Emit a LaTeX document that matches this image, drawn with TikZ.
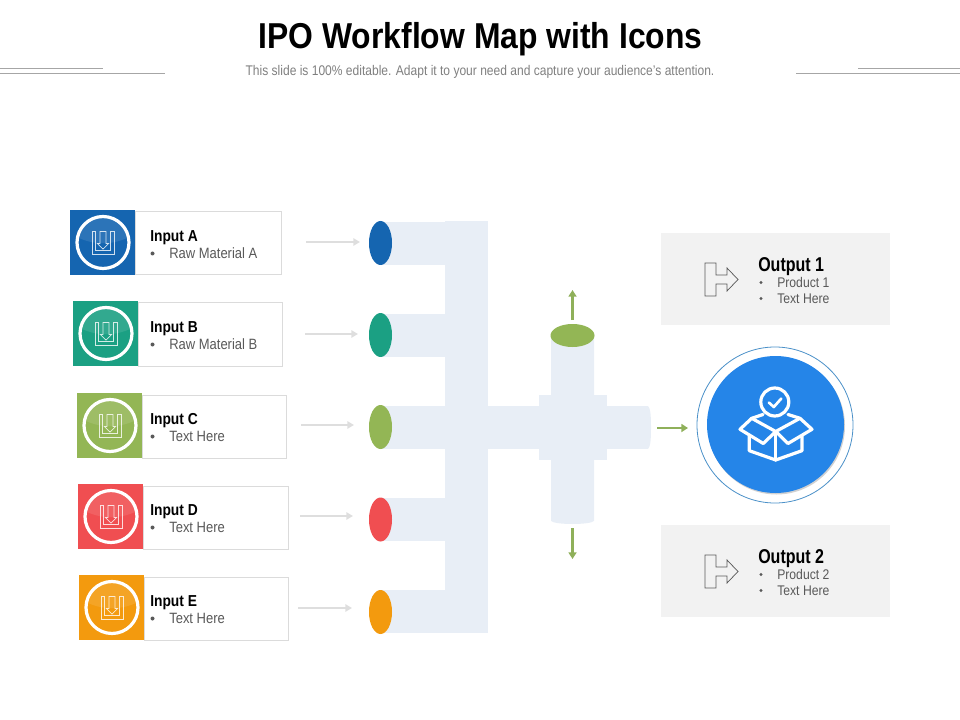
\documentclass[tikz,border=0pt]{standalone}
\usepackage{fontspec}
\setmainfont{Liberation Sans}
\newfontfamily\narrowf[FakeStretch=0.80]{Liberation Sans}
\newfontfamily\narrowg[FakeStretch=0.87]{Liberation Sans}
\newfontfamily\titlef[FakeStretch=0.885]{Liberation Sans}
\newfontfamily\subf[FakeStretch=0.86]{Liberation Sans}
\usetikzlibrary{arrows.meta}
\definecolor{barblue}{HTML}{E8EEF6}
\definecolor{cA}{HTML}{1565B0}
\definecolor{cB}{HTML}{1BA083}
\definecolor{cC}{HTML}{93B655}
\definecolor{cD}{HTML}{F04E51}
\definecolor{cE}{HTML}{F39A0E}
\definecolor{arrgreen}{HTML}{8FB05A}
\definecolor{bigblue}{HTML}{2585E8}
\definecolor{ringblue}{HTML}{4A90C8}
\definecolor{subgray}{HTML}{7F7F7F}
\definecolor{bodygray}{HTML}{595959}
\definecolor{ruleg}{HTML}{A6A6A6}
\tikzset{
  x=0.75pt,y=-0.75pt,
  bar/.style={fill=barblue,draw=none},
  cardbox/.style={draw=black!14,line width=0.75pt,fill=white},
  grayarrow/.style={draw=black!13,line width=1.6pt,-{Triangle[length=5pt,width=5.5pt]}},
  greenarrow/.style={draw=arrgreen,line width=1.9pt,-{Triangle[length=5pt,width=6pt]}},
  headrule/.style={draw=ruleg,line width=0.6pt},
  cardtitle/.style={anchor=west,inner sep=0pt,font=\narrowg\bfseries\fontsize{11.9}{13}\selectfont,text=black},
  cardtext/.style={anchor=west,inner sep=0pt,font=\narrowg\fontsize{11.2}{12}\selectfont,text=bodygray},
  outtitle/.style={anchor=west,inner sep=0pt,font=\narrowf\bfseries\fontsize{15}{16}\selectfont,text=black},
  outtext/.style={anchor=west,inner sep=0pt,font=\narrowg\fontsize{10.5}{11}\selectfont,text=bodygray},
  bulletdot/.style={circle,fill=bodygray,inner sep=0pt,minimum size=3pt},
  outicon/.style={draw=black!65,line width=0.55pt,fill=none,line join=miter},
  boxicon/.style={draw=white,line width=2.4pt,line join=round,line cap=round},
}
\newcommand{\inputcard}[7]{% name, color, sq left, sq top, card right, title, text
  \draw[cardbox] (#3+65,#4+2) rectangle (#5,#4+65);
  \fill[#2] (#3,#4) rectangle (#3+65,#4+65);
  \begin{scope}[shift={(#3+33,#4+32.5)}]
    \begin{scope}
      \clip (0,0) circle[radius=25];
      \fill[white,opacity=0.10] (-27,-6) .. controls (-10,3) and (10,3) .. (27,-6) -- (27,-27) -- (-27,-27) -- cycle;
    \end{scope}
    \draw[white,line width=2.4pt] (0,0) circle[radius=26];
    \draw[white,opacity=0.8,line width=0.55pt] (-11,-11) -- (-7.5,-11) -- (-7.5,8) -- (7.5,8) -- (7.5,-11) -- (11,-11) -- (11,11.5) -- (-11,11.5) -- cycle;
    \draw[white,opacity=0.8,line width=0.55pt] (-3,-11) -- (3,-11) -- (3,1) -- (5.7,1) -- (0,6.5) -- (-5.7,1) -- (-3,1) -- cycle;
  \end{scope}
  \node[cardtitle] (#1title) at (150,#4+27.5) {#6};
  \node[bulletdot] (#1dot) at (152.5,#4+43.5) {};
  \node[cardtext] (#1text) at (169,#4+43) {#7};
}
\newcommand{\outputbox}[5]{% name, top, title, line1, line2
  \fill[black!5] (661,#2) rectangle (890,#2+92);
  \draw[outicon] (705,#2+30) -- (716,#2+30) -- (716,#2+42) -- (727,#2+42) -- (727,#2+35) -- (738,#2+46.5) -- (727,#2+58) -- (727,#2+51) -- (716,#2+51) -- (716,#2+63) -- (705,#2+63) -- cycle;
  \node[outtitle] (#1title) at (758,#2+33.5) {#3};
  \node[bulletdot,minimum size=2.4pt] (#1dota) at (761,#2+49.5) {};
  \node[outtext] (#1a) at (777,#2+49.5) {#4};
  \node[bulletdot,minimum size=2.4pt] (#1dotb) at (761,#2+65.5) {};
  \node[outtext] (#1b) at (777,#2+65.8) {#5};
}
\begin{document}
\begin{tikzpicture}
\useasboundingbox (0,0) rectangle (960,720);
% header
\node[inner sep=0pt,font=\titlef\bfseries\fontsize{27}{30}\selectfont] (title) at (480.5,39) {IPO Workflow Map with Icons};
\node[inner sep=0pt,font=\subf\fontsize{10.5}{12}\selectfont,text=subgray] (subtitle) at (480,71.5) {This slide is 100\% editable. Adapt it to your need and capture your audience’s attention.};
\draw[headrule] (0,68.5) -- (103,68.5);
\draw[headrule] (0,73) -- (165,73);
\draw[headrule] (796,73) -- (960,73);
\draw[headrule] (858,68.5) -- (960,68.5);
% pipe network
\fill[bar] (445,221) rectangle (488,633);
\fill[bar] (380,222) rectangle (445,265);
\fill[bar] (380,314) rectangle (445,357);
\fill[bar] (380,406) rectangle (648,449);
\fill[bar] (648,406) .. controls (650,408) and (651,412) .. (651,427.5) .. controls (651,443) and (650,447) .. (648,449) -- cycle;
\fill[bar] (380,498) rectangle (445,541);
\fill[bar] (380,590) rectangle (445,633);
\fill[bar] (539,395) rectangle (607,460);
\fill[bar] (551,336) -- (594,336) -- (594,521) .. controls (590,525) and (555,525) .. (551,521) -- cycle;
% ellipses
\foreach \nm/\c/\yy in {a/cA/243,b/cB/335,c/cC/427,d/cD/519.5,e/cE/612}{
  \fill[\c] (380.5,\yy) ellipse[x radius=11.5,y radius=22];
}
\fill[cC] (572.5,335.5) ellipse[x radius=22,y radius=11.5];
% cards
\inputcard{ia}{cA}{70}{210}{281}{Input A}{Raw Material A}
\inputcard{ib}{cB}{73}{301}{282.5}{Input B}{Raw Material B}
\inputcard{ic}{cC}{77}{393}{286.5}{Input C}{Text Here}
\inputcard{id}{cD}{78}{484}{288}{Input D}{Text Here}
\inputcard{ie}{cE}{79}{575}{288.5}{Input E}{Text Here}
% gray arrows
\coordinate (ga0) at (306,242); \coordinate (ga1) at (360,242);
\coordinate (gb0) at (305,334); \coordinate (gb1) at (358,334);
\coordinate (gc0) at (301,425); \coordinate (gc1) at (354,425);
\coordinate (gd0) at (300,516); \coordinate (gd1) at (353,516);
\coordinate (ge0) at (298,608); \coordinate (ge1) at (352,608);
\draw[grayarrow] (ga0) -- (ga1);
\draw[grayarrow] (gb0) -- (gb1);
\draw[grayarrow] (gc0) -- (gc1);
\draw[grayarrow] (gd0) -- (gd1);
\draw[grayarrow] (ge0) -- (ge1);
% green arrows
\coordinate (up0) at (572.5,320); \coordinate (up1) at (572.5,290);
\coordinate (dn0) at (572.5,528); \coordinate (dn1) at (572.5,559);
\coordinate (rt0) at (657,428); \coordinate (rt1) at (688,428);
\draw[greenarrow] (up0) -- (up1);
\draw[greenarrow] (dn0) -- (dn1);
\draw[greenarrow] (rt0) -- (rt1);
% outputs
\outputbox{oa}{233}{Output 1}{Product 1}{Text Here}
\outputbox{ob}{525}{Output 2}{Product 2}{Text Here}
% big circle
\draw[draw=ringblue,line width=0.6pt] (775,425) circle[radius=78];
\fill[black!18] (776.5,426) circle[radius=68.5];
\fill[bigblue] (775.5,424.5) circle[radius=68.5];
\draw[boxicon] (774.8,402) circle[radius=14];
\draw[boxicon,line width=2pt] (768.8,402.5) -- (773.8,407) -- (781.3,398.5);
\draw[boxicon] (775.7,431.5) -- (751.7,418.3) -- (740,429.3) -- (763.3,443.5) -- (775.7,431.5) -- (788,443.5) -- (812,429.3) -- (800,418.3) -- cycle;
\draw[boxicon] (751.7,418.3) -- (763,414.5);
\draw[boxicon] (800,418.3) -- (788,414.5);
\draw[boxicon] (749.3,436) -- (749.3,450.7) -- (775.7,460) -- (802,450.7) -- (802,436);
\draw[boxicon] (775.7,431.5) -- (775.7,460);
\end{tikzpicture}
\end{document}
